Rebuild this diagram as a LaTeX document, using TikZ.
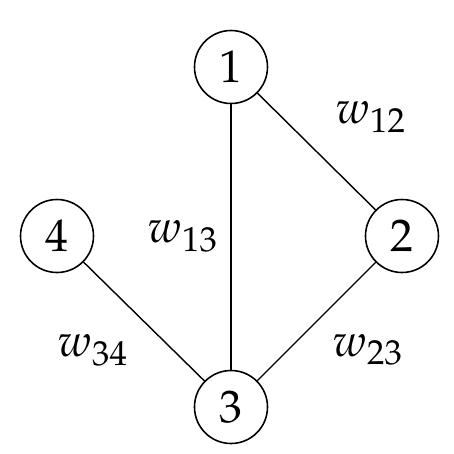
\documentclass[tikz,border=0pt]{standalone}
\usepackage{mathpazo}
\begin{document}
\begin{tikzpicture}[
  vertex/.style={draw, circle, line width=0.9pt, minimum size=1.46cm, inner sep=0pt,
    font=\fontsize{26}{30}\selectfont},
  weight/.style={font=\fontsize{26}{30}\selectfont},
  every path/.style={line width=0.8pt}
]
  \useasboundingbox (0,0) rectangle (9.08,-9.08);

  \node[vertex] (v1) at ({4.62}, -1.34) {$1$};
  \node[vertex] (v2) at ({8.04}, -4.72) {$2$};
  \node[vertex] (v3) at ({4.62}, -8.14) {$3$};
  \node[vertex] (v4) at ({1.14}, -4.72) {$4$};

  \draw (v1) -- (v3);
  \draw (v1) -- (v2);
  \draw (v2) -- (v3);
  \draw (v4) -- (v3);

  % edge weights
  \node[weight] (w12) at ({7.42}, -2.34) {$w_{12}$};
  \node[weight] (w13) at ({3.66}, -4.72) {$w_{13}$};
  \node[weight] (w23) at ({7.36}, -7.0) {$w_{23}$};
  \node[weight] (w34) at ({1.86}, -7.0) {$w_{34}$};

\end{tikzpicture}
\end{document}
